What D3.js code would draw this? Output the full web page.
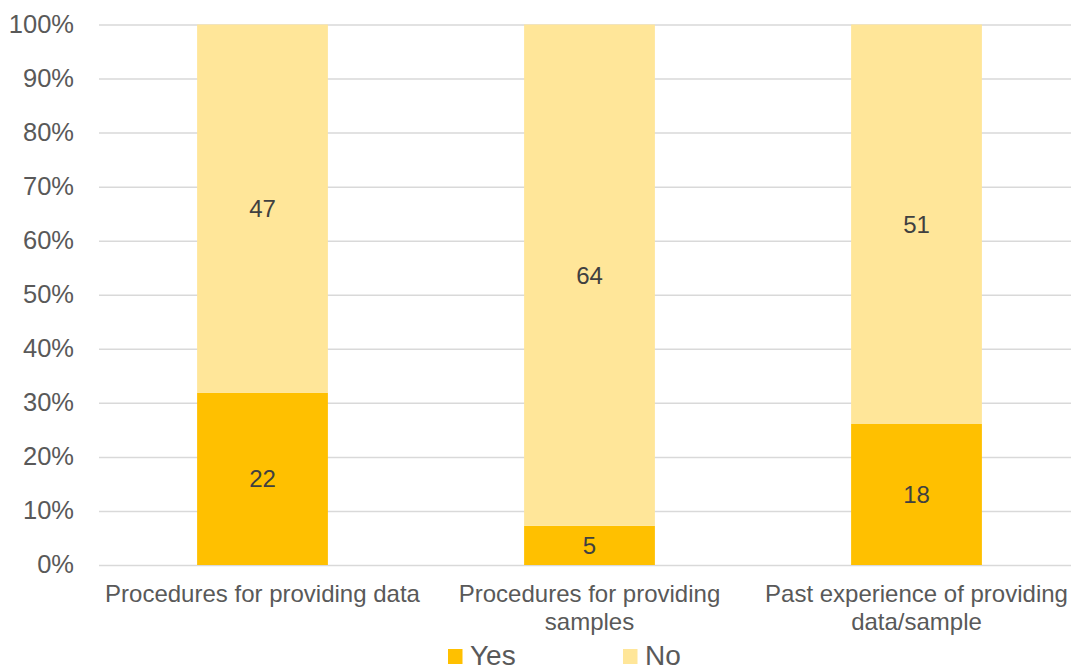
<!DOCTYPE html>
<html>
<head>
<meta charset="utf-8">
<script src="https://cdn.jsdelivr.net/npm/d3@7/dist/d3.min.js"></script>
<style>
  html, body { margin: 0; padding: 0; background: #fff; overflow: hidden; }
  svg { display: block; font-family: "Liberation Sans", Arial, sans-serif; }
</style>
</head>
<body>
<svg id="chart" width="1071" height="671"></svg>
<script>
// Survey responses per item
const categories = [
  "Procedures for providing data",
  "Procedures for providing samples",
  "Past experience of providing data/sample"
];
const yesCounts = [22, 5, 18];
const noCounts = [47, 64, 51];
const seriesNames = ["Yes", "No"];
const seriesColors = ["#FFC000", "#FFE699"];
const yTicks = [0, 0.1, 0.2, 0.3, 0.4, 0.5, 0.6, 0.7, 0.8, 0.9, 1.0];

const svg = d3.select("#chart");

const plot = { left: 99, right: 1080, top: 24.5, bottom: 565 };

const x = d3.scaleBand()
  .domain(categories)
  .range([plot.left, plot.right])
  .paddingInner(0.6)
  .paddingOuter(0.3);

const y = d3.scaleLinear()
  .domain([0, 1])
  .range([plot.bottom, plot.top]);

// Build 100% stacked rows
const rows = categories.map((c, i) => ({ cat: c, Yes: yesCounts[i], No: noCounts[i], total: yesCounts[i] + noCounts[i] }));
const stack = d3.stack()
  .keys(seriesNames)
  .value((d, key) => d[key] / d.total);
const layers = stack(rows);

// Gridlines and percentage ticks
const yAxis = d3.axisLeft(y)
  .tickValues(yTicks)
  .tickFormat(d3.format(".0%"))
  .tickSize(-(plot.right - plot.left))
  .tickPadding(25);

const gAxis = svg.append("g")
  .attr("transform", `translate(${plot.left},0)`)
  .call(yAxis);
gAxis.select(".domain").remove();
gAxis.selectAll(".tick line")
  .attr("stroke", "#d9d9d9")
  .attr("stroke-width", 1.5);
gAxis.selectAll(".tick text")
  .attr("fill", "#595959")
  .attr("font-size", "25.5px")
  .attr("font-family", "'Liberation Sans', Arial, sans-serif")
  .attr("dy", "0.3em");

// Bars
const gBars = svg.append("g");
layers.forEach((layer, li) => {
  gBars.selectAll(null)
    .data(layer)
    .enter()
    .append("rect")
    .attr("x", d => x(d.data.cat))
    .attr("width", x.bandwidth())
    .attr("y", d => y(d[1]))
    .attr("height", d => y(d[0]) - y(d[1]))
    .attr("fill", seriesColors[li]);

  gBars.selectAll(null)
    .data(layer)
    .enter()
    .append("text")
    .attr("x", d => x(d.data.cat) + x.bandwidth() / 2)
    .attr("y", d => (y(d[0]) + y(d[1])) / 2)
    .attr("dy", "0.35em")
    .attr("text-anchor", "middle")
    .attr("font-size", "24px")
    .attr("fill", "#404040")
    .text(d => d.data[layer.key]);
});

// Category labels with wrapping
function wrapLabel(text, maxWidth, fontSize) {
  const words = text.split(" ");
  const lines = [];
  let line = [];
  const measure = svg.append("text").attr("font-size", fontSize + "px").attr("visibility", "hidden");
  words.forEach(w => {
    const trial = line.concat([w]).join(" ");
    measure.text(trial);
    if (measure.node().getComputedTextLength() > maxWidth && line.length) {
      lines.push(line.join(" "));
      line = [w];
    } else {
      line.push(w);
    }
  });
  if (line.length) lines.push(line.join(" "));
  measure.remove();
  return lines;
}

const gCats = svg.append("g");
categories.forEach(c => {
  const lines = wrapLabel(c, 318, 24);
  const t = gCats.append("text")
    .attr("text-anchor", "middle")
    .attr("font-size", "24px")
    .attr("fill", "#595959");
  lines.forEach((ln, i) => {
    t.append("tspan")
      .attr("x", x(c) + x.bandwidth() / 2)
      .attr("y", 602 + i * 28)
      .text(ln);
  });
});

// Legend
const legendItems = [
  { name: seriesNames[0], color: seriesColors[0], x: 448 },
  { name: seriesNames[1], color: seriesColors[1], x: 623 }
];
const gLegend = svg.append("g");
legendItems.forEach(it => {
  gLegend.append("rect")
    .attr("x", it.x)
    .attr("y", 649)
    .attr("width", 14.5)
    .attr("height", 15)
    .attr("fill", it.color);
  gLegend.append("text")
    .attr("x", it.x + 22)
    .attr("y", 665)
    .attr("font-size", "28px")
    .attr("fill", "#595959")
    .text(it.name);
});
</script>
</body>
</html>
